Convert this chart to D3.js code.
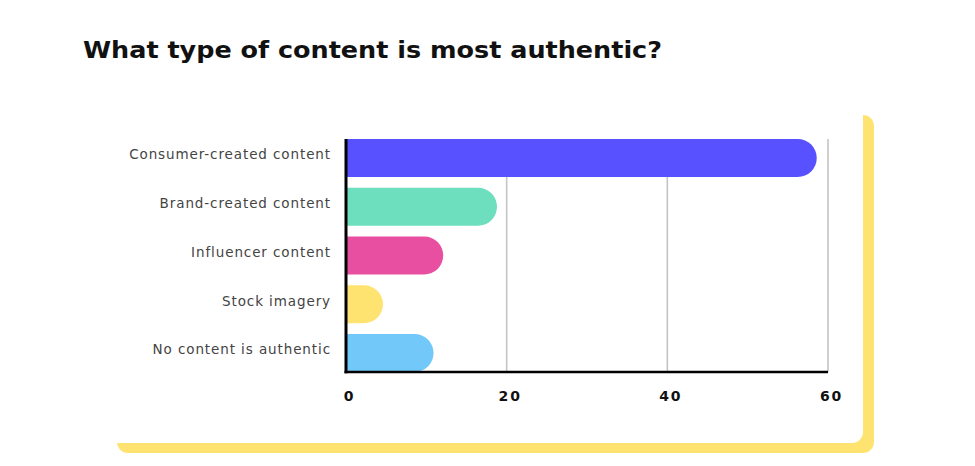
<!DOCTYPE html>
<html>
<head>
<meta charset="utf-8">
<script src="https://cdn.jsdelivr.net/npm/d3@7"></script>
<style>
  html, body { margin: 0; padding: 0; background: #fff; }
  svg { display: block; }
</style>
</head>
<body>
<div id="chart"></div>
<script>
const title = "What type of content is most authentic?";
const categories = [
  "Consumer-created content",
  "Brand-created content",
  "Influencer content",
  "Stock imagery",
  "No content is authentic"
];
const values = [58.6, 18.8, 12.1, 4.6, 10.9];
const colors = ["#5751FF", "#6EDFBE", "#E84FA0", "#FFE370", "#73C8FA"];
const tickValues = [0, 20, 40, 60];

const W = 975, H = 466;
const margin = { top: 139, right: 147, bottom: 94, left: 346 };

const svg = d3.select("#chart").append("svg")
  .attr("width", W).attr("height", H);

// card with yellow offset shadow
svg.append("rect")
  .attr("x", 117).attr("y", 115).attr("width", 757).attr("height", 338)
  .attr("rx", 11).attr("fill", "#FFE370");
svg.append("rect")
  .attr("x", 90).attr("y", 95).attr("width", 773).attr("height", 348)
  .attr("rx", 11).attr("fill", "#fff");

// title
svg.append("text")
  .attr("x", 83).attr("y", 58)
  .attr("font-family", "'DejaVu Sans', sans-serif")
  .attr("font-weight", "bold")
  .attr("font-size", 23)
  .attr("fill", "#111")
  .attr("textLength", 579)
  .attr("lengthAdjust", "spacingAndGlyphs")
  .text(title);

const x = d3.scaleLinear().domain([0, 60]).range([margin.left, W - margin.right]);
const y = d3.scaleBand().domain(categories)
  .range([margin.top, H - margin.bottom])
  .paddingInner(0.22).paddingOuter(0);

const g = svg.append("g");

// gridlines
g.selectAll("line.grid").data(tickValues.filter(d => d > 0)).join("line")
  .attr("class", "grid")
  .attr("x1", d => x(d)).attr("x2", d => x(d))
  .attr("y1", margin.top).attr("y2", H - margin.bottom)
  .attr("stroke", "#c4c4c4").attr("stroke-width", 1.6);

// bars: flat left, rounded right
const bh = y.bandwidth();
const r = bh / 2;
g.selectAll("path.bar").data(categories).join("path")
  .attr("class", "bar")
  .attr("fill", (d, i) => colors[i])
  .attr("d", (d, i) => {
    const x0 = x(0), x1 = x(values[i]);
    const y0 = y(d), y1 = y0 + bh;
    const rr = Math.min(r, x1 - x0);
    return `M${x0},${y0}H${x1 - rr}` +
      `A${rr},${r} 0 0 1 ${x1},${y0 + r}A${rr},${r} 0 0 1 ${x1 - rr},${y1}H${x0}Z`;
  });

// axes lines
g.append("line")
  .attr("x1", x(0)).attr("x2", x(0))
  .attr("y1", margin.top).attr("y2", H - margin.bottom + 1.3)
  .attr("stroke", "#000").attr("stroke-width", 3);
g.append("line")
  .attr("x1", x(0) - 1.5).attr("x2", x(60))
  .attr("y1", H - margin.bottom).attr("y2", H - margin.bottom)
  .attr("stroke", "#000").attr("stroke-width", 2.6);

// x tick labels via axis
const xAxis = d3.axisBottom(x).tickValues(tickValues).tickSize(0).tickPadding(19);
const ax = svg.append("g")
  .attr("transform", `translate(3,${H - margin.bottom})`)
  .call(xAxis);
ax.select(".domain").remove();
ax.selectAll("text")
  .attr("font-family", "'DejaVu Sans', sans-serif")
  .attr("font-weight", "bold")
  .attr("font-size", 14)
  .attr("letter-spacing", "1.8px")
  .attr("fill", "#111");

// y labels via axis
const yAxis = d3.axisLeft(y).tickSize(0).tickPadding(15);
const ay = svg.append("g")
  .attr("transform", `translate(${x(0)},-3)`)
  .call(yAxis);
ay.select(".domain").remove();
ay.selectAll("text")
  .attr("font-family", "'DejaVu Sans', sans-serif")
  .attr("font-size", 13.5)
  .attr("letter-spacing", "0.9px")
  .attr("fill", "#444");
</script>
</body>
</html>
